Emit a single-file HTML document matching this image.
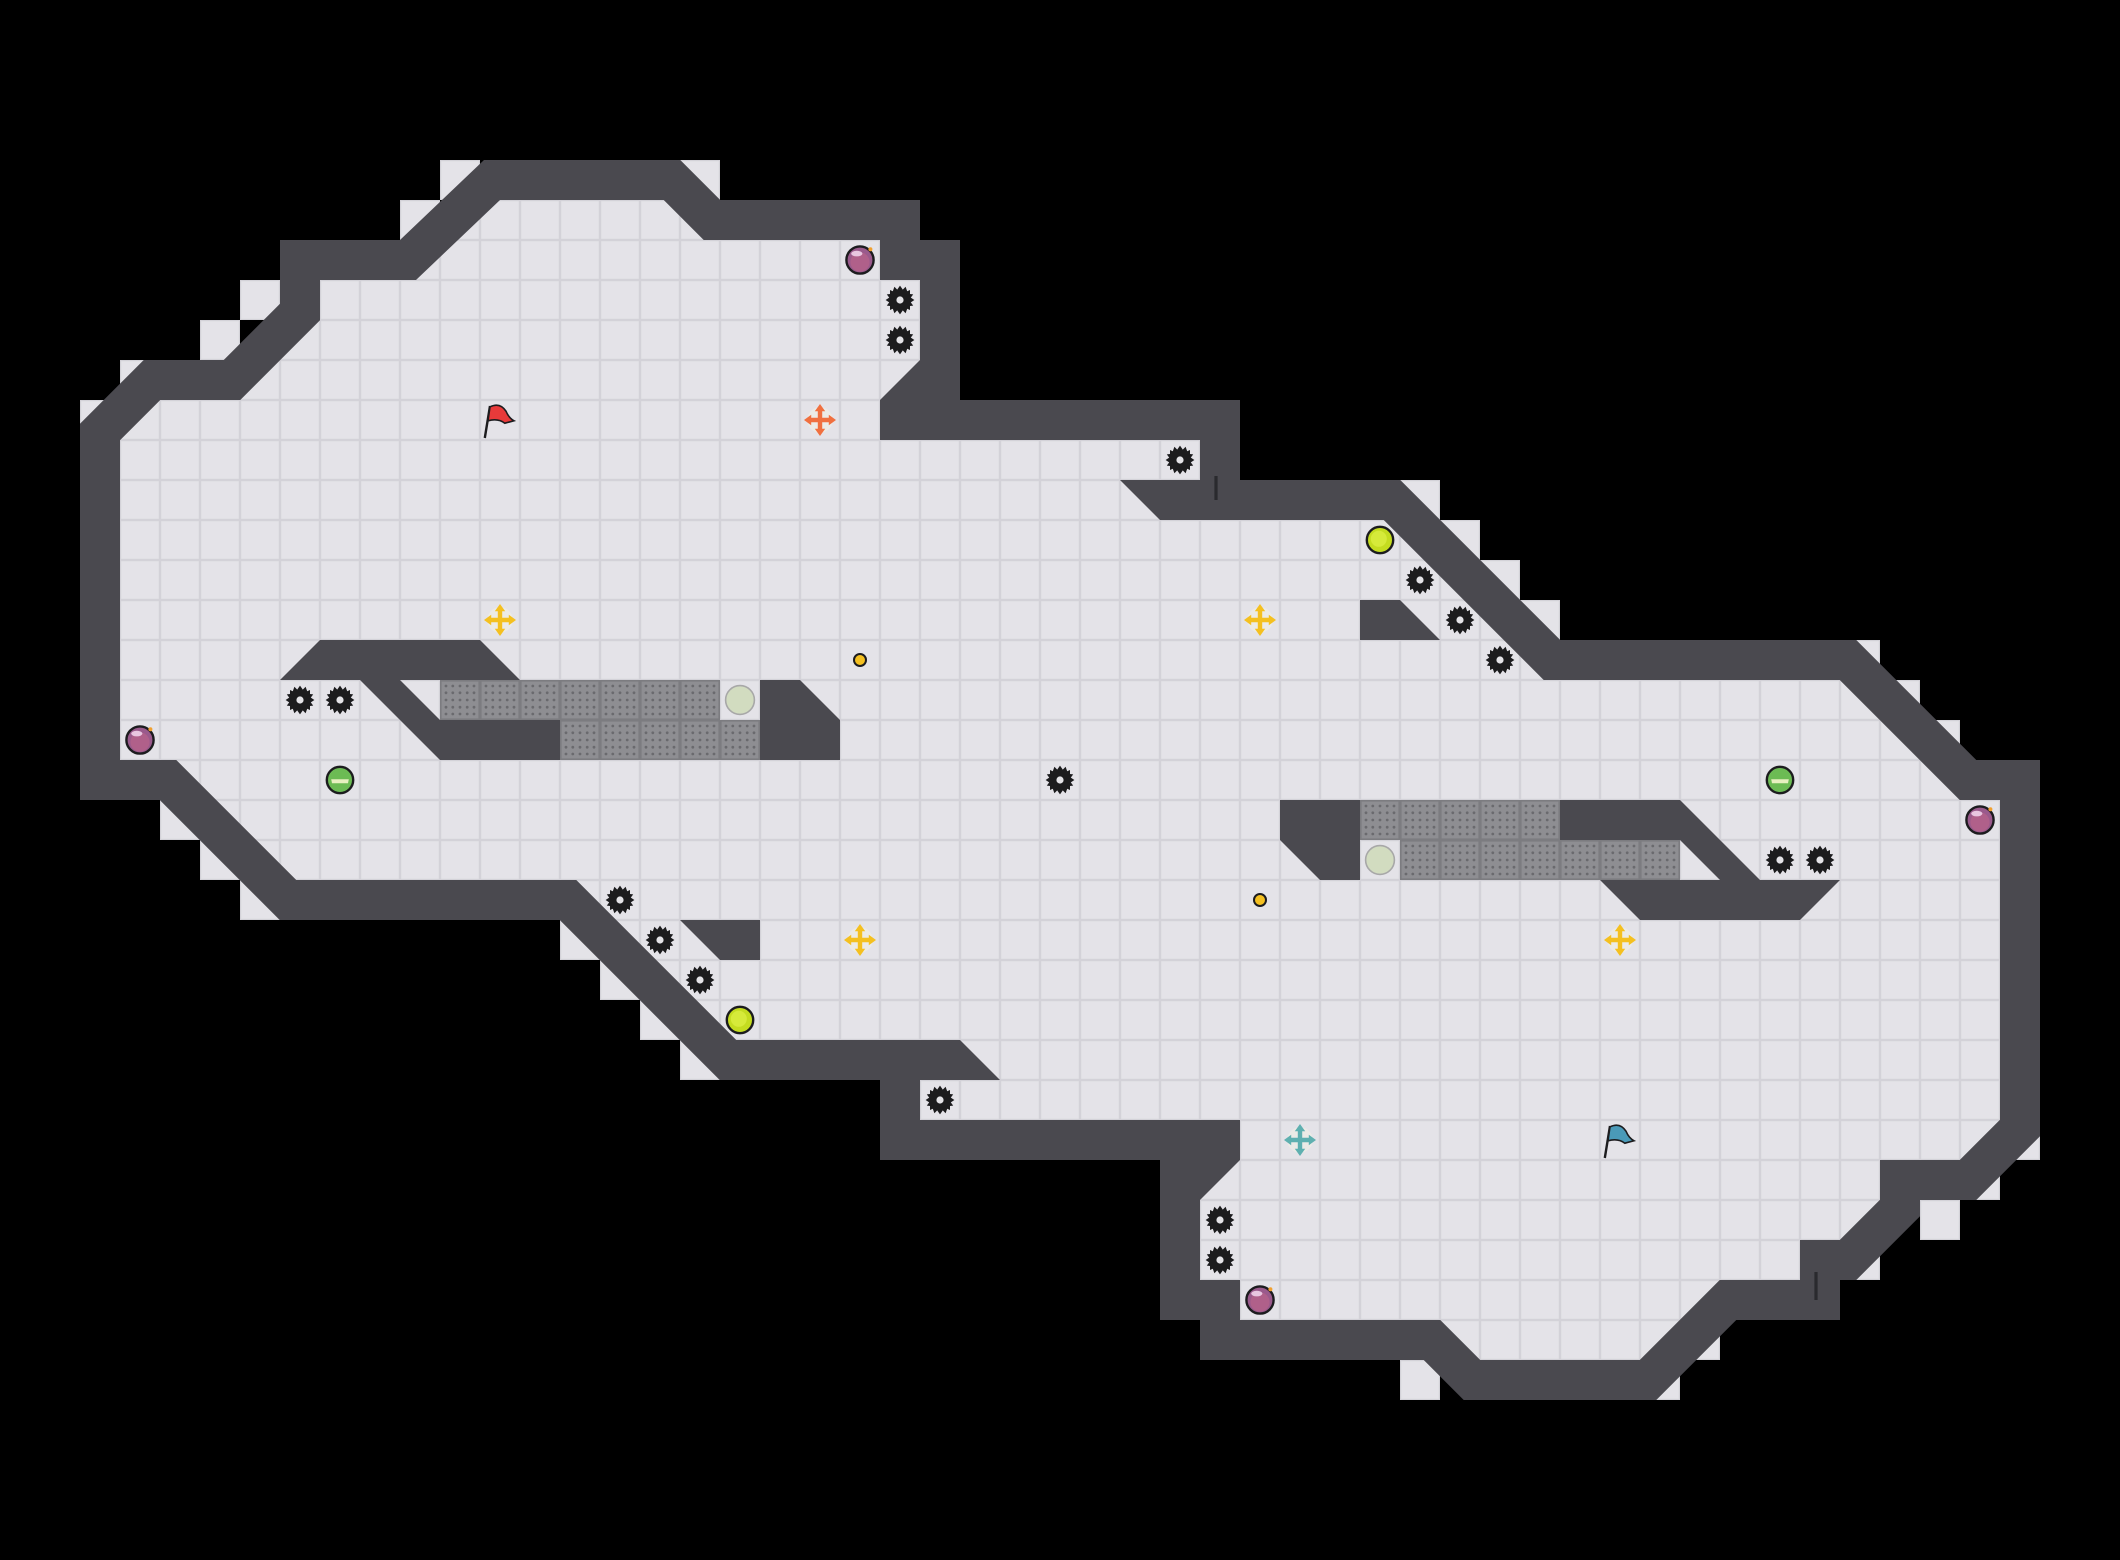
<!DOCTYPE html>
<html><head><meta charset="utf-8"><style>
html,body{margin:0;padding:0;background:#000;}
svg{display:block;}
</style></head><body>
<svg width="2120" height="1560" viewBox="0 0 53 39" xmlns="http://www.w3.org/2000/svg">
<defs>
<pattern id="tile" width="1" height="1" patternUnits="userSpaceOnUse">
<rect width="1" height="1" fill="#d3d2d8"/>
<rect x="0.03" y="0.03" width="0.94" height="0.94" fill="#e4e3e8"/>
</pattern>
<pattern id="grate" width="1" height="1" patternUnits="userSpaceOnUse">
<rect width="1" height="1" fill="#7c7c80"/>
<rect x="0.04" y="0.04" width="0.92" height="0.92" fill="#8e8e92"/>
<g fill="#6a6a6e">
<circle cx="0.15" cy="0.15" r="0.035"/><circle cx="0.32" cy="0.15" r="0.035"/><circle cx="0.5" cy="0.15" r="0.035"/><circle cx="0.68" cy="0.15" r="0.035"/><circle cx="0.85" cy="0.15" r="0.035"/>
<circle cx="0.15" cy="0.32" r="0.035"/><circle cx="0.32" cy="0.32" r="0.035"/><circle cx="0.5" cy="0.32" r="0.035"/><circle cx="0.68" cy="0.32" r="0.035"/><circle cx="0.85" cy="0.32" r="0.035"/>
<circle cx="0.15" cy="0.5" r="0.035"/><circle cx="0.32" cy="0.5" r="0.035"/><circle cx="0.5" cy="0.5" r="0.035"/><circle cx="0.68" cy="0.5" r="0.035"/><circle cx="0.85" cy="0.5" r="0.035"/>
<circle cx="0.15" cy="0.68" r="0.035"/><circle cx="0.32" cy="0.68" r="0.035"/><circle cx="0.5" cy="0.68" r="0.035"/><circle cx="0.68" cy="0.68" r="0.035"/><circle cx="0.85" cy="0.68" r="0.035"/>
<circle cx="0.15" cy="0.85" r="0.035"/><circle cx="0.32" cy="0.85" r="0.035"/><circle cx="0.5" cy="0.85" r="0.035"/><circle cx="0.68" cy="0.85" r="0.035"/><circle cx="0.85" cy="0.85" r="0.035"/>
</g>
</pattern>
<g id="saw">
<polygon fill="#1c1c1e" points="0,-0.36 0.07,-0.26 0.14,-0.33 0.18,-0.22 0.25,-0.25 0.25,-0.15 0.33,-0.14 0.27,-0.06 0.36,0 0.27,0.06 0.33,0.14 0.25,0.15 0.25,0.25 0.18,0.22 0.14,0.33 0.07,0.26 0,0.36 -0.07,0.26 -0.14,0.33 -0.18,0.22 -0.25,0.25 -0.25,0.15 -0.33,0.14 -0.27,0.06 -0.36,0 -0.27,-0.06 -0.33,-0.14 -0.25,-0.15 -0.25,-0.25 -0.18,-0.22 -0.14,-0.33 -0.07,-0.26"/>
<circle r="0.09" fill="#e4e3e8"/>
</g>
<g id="orb">
<circle r="0.34" fill="#9a5a8c" stroke="#1c1c1e" stroke-width="0.06"/>
<circle r="0.24" cy="0.05" fill="#b0608a"/>
<ellipse cx="-0.08" cy="-0.16" rx="0.14" ry="0.07" fill="#e8c6e0"/>
<circle cx="0.26" cy="-0.27" r="0.05" fill="#f0a030"/>
</g>
<g id="lime"><circle r="0.33" fill="#c4dc20" stroke="#1c1c1e" stroke-width="0.06"/><circle r="0.2" cx="-0.03" cy="-0.03" fill="#d6ea3a"/></g>
<g id="grn"><circle r="0.33" fill="#6cbb54" stroke="#1c1c1e" stroke-width="0.06"/><path d="M-0.22,-0.02 L0.22,-0.02 L0.2,0.08 L-0.2,0.08Z" fill="#e8f0c0"/></g>
<g id="ycross"><circle r="0.32" fill="#ecebe6"/><path d="M0,-0.3 L0,0.3 M-0.3,0 L0.3,0" stroke="#f4c020" stroke-width="0.11"/><path d="M0,-0.4 L-0.13,-0.22 L0.13,-0.22Z M0,0.4 L-0.13,0.22 L0.13,0.22Z M-0.4,0 L-0.22,-0.13 L-0.22,0.13Z M0.4,0 L0.22,-0.13 L0.22,0.13Z" fill="#f4c020"/></g>
<g id="ocross"><circle r="0.32" fill="#ecebe6"/><path d="M0,-0.3 L0,0.3 M-0.3,0 L0.3,0" stroke="#f07040" stroke-width="0.11"/><path d="M0,-0.4 L-0.13,-0.22 L0.13,-0.22Z M0,0.4 L-0.13,0.22 L0.13,0.22Z M-0.4,0 L-0.22,-0.13 L-0.22,0.13Z M0.4,0 L0.22,-0.13 L0.22,0.13Z" fill="#f07040"/></g>
<g id="tcross"><circle r="0.32" fill="#ecebe6"/><path d="M0,-0.3 L0,0.3 M-0.3,0 L0.3,0" stroke="#5fb0b0" stroke-width="0.11"/><path d="M0,-0.4 L-0.13,-0.22 L0.13,-0.22Z M0,0.4 L-0.13,0.22 L0.13,0.22Z M-0.4,0 L-0.22,-0.13 L-0.22,0.13Z M0.4,0 L0.22,-0.13 L0.22,0.13Z" fill="#5fb0b0"/></g>
</defs>
<rect width="53" height="39" fill="#000"/>
<g fill="url(#tile)">
<rect x="11" y="4" width="1" height="1"/><rect x="10" y="5" width="1" height="1"/><rect x="17" y="4" width="1" height="1"/>
<rect x="2" y="10" width="1" height="1"/><rect x="3" y="9" width="1" height="1"/><rect x="5" y="8" width="1" height="1"/><rect x="6" y="7" width="1" height="1"/>
<rect x="35" y="12" width="1" height="1"/><rect x="36" y="13" width="1" height="1"/><rect x="37" y="14" width="1" height="1"/><rect x="38" y="15" width="1" height="1"/>
<rect x="46" y="16" width="1" height="1"/><rect x="47" y="17" width="1" height="1"/><rect x="48" y="18" width="1" height="1"/>
<rect x="50" y="28" width="1" height="1"/><rect x="49" y="29" width="1" height="1"/><rect x="48" y="30" width="1" height="1"/><rect x="46" y="31" width="1" height="1"/>
<rect x="42" y="33" width="1" height="1"/><rect x="41" y="34" width="1" height="1"/><rect x="35" y="34" width="1" height="1"/>
<rect x="14" y="23" width="1" height="1"/><rect x="15" y="24" width="1" height="1"/><rect x="16" y="25" width="1" height="1"/><rect x="17" y="26" width="1" height="1"/>
<rect x="4" y="20" width="1" height="1"/><rect x="5" y="21" width="1" height="1"/><rect x="6" y="22" width="1" height="1"/>
</g>
<polygon fill="url(#tile)" stroke="#4a494f" stroke-width="1" stroke-linejoin="miter" stroke-miterlimit="4"
points="12.3,4.5 16.8,4.5 17.8,5.5 22.5,5.5 22.5,6.5 23.5,6.5 23.5,10.5 30.5,10.5 30.5,12.5 34.8,12.5 38.8,16.5 46.2,16.5 49.2,19.5 50.5,19.5 50.5,28.2 49.2,29.5 47.5,29.5 47.5,30.2 46.2,31.5 45.5,31.5 45.5,32.5 43.2,32.5 41.2,34.5 36.8,34.5 35.8,33.5 30.5,33.5 30.5,32.5 29.5,32.5 29.5,28.5 22.5,28.5 22.5,26.5 18.2,26.5 14.2,22.5 7.2,22.5 4.2,19.5 2.5,19.5 2.5,10.8 3.8,9.5 5.8,9.5 7.5,7.8 7.5,6.5 10.2,6.5"/>
<g fill="#4a494f">
<rect x="22" y="10" width="1.2" height="1"/>
<rect x="22.8" y="26" width="1.2" height="1"/>
<rect x="29.8" y="28" width="1.2" height="1"/>
<polygon points="22,10 23,9 23,10"/>
<polygon points="28,12 31,12 31,13 29,13"/>
<polygon points="24,26 25,27 24,27"/>
<polygon points="30,29 31,29 30,30"/>
<polygon points="34,15 35,15 36,16 34,16"/>
<polygon points="17,23 19,23 19,24 18,24"/>
<polygon points="7,17 8,16 12,16 13,17"/>
<polygon points="9,17 10,17 11,18 14,18 14,19 11,19"/>
<polygon points="19,17 20,17 21,18 21,19 19,19"/>
<polygon points="32,20 34,20 34,22 33,22 32,21"/>
<polygon points="39,20 42,20 44,22 46,22 45,23 41,23 40,22 43,22 42,21 39,21"/>
</g>
<g stroke="#2a2a2e" stroke-width="0.08">
<line x1="30.4" y1="11.9" x2="30.4" y2="12.5"/>
<line x1="45.4" y1="31.8" x2="45.4" y2="32.5"/>
</g>
<rect x="11" y="17" width="7" height="1" fill="url(#grate)"/>
<rect x="14" y="18" width="5" height="1" fill="url(#grate)"/>
<rect x="34" y="20" width="5" height="1" fill="url(#grate)"/>
<rect x="35" y="21" width="7" height="1" fill="url(#grate)"/>
<circle cx="18.5" cy="17.5" r="0.36" fill="#d2dcc0" stroke="#a8a8a8" stroke-width="0.04"/>
<circle cx="34.5" cy="21.5" r="0.36" fill="#d2dcc0" stroke="#a8a8a8" stroke-width="0.04"/>
<use href="#saw" x="22.5" y="7.5"/><use href="#saw" x="22.5" y="8.5"/><use href="#saw" x="29.5" y="11.5"/>
<use href="#saw" x="35.5" y="14.5"/><use href="#saw" x="36.5" y="15.5"/><use href="#saw" x="37.5" y="16.5"/>
<use href="#saw" x="7.5" y="17.5"/><use href="#saw" x="8.5" y="17.5"/><use href="#saw" x="26.5" y="19.5"/>
<use href="#saw" x="44.5" y="21.5"/><use href="#saw" x="45.5" y="21.5"/>
<use href="#saw" x="15.5" y="22.5"/><use href="#saw" x="16.5" y="23.5"/><use href="#saw" x="17.5" y="24.5"/>
<use href="#saw" x="23.5" y="27.5"/><use href="#saw" x="30.5" y="30.5"/><use href="#saw" x="30.5" y="31.5"/>
<use href="#orb" x="21.5" y="6.5"/><use href="#orb" x="3.5" y="18.5"/><use href="#orb" x="49.5" y="20.5"/><use href="#orb" x="31.5" y="32.5"/>
<use href="#lime" x="34.5" y="13.5"/><use href="#lime" x="18.5" y="25.5"/>
<use href="#grn" x="8.5" y="19.5"/><use href="#grn" x="44.5" y="19.5"/>
<use href="#ycross" x="12.5" y="15.5"/><use href="#ycross" x="31.5" y="15.5"/><use href="#ycross" x="21.5" y="23.5"/><use href="#ycross" x="40.5" y="23.5"/>
<use href="#ocross" x="20.5" y="10.5"/><use href="#tcross" x="32.5" y="28.5"/>
<circle cx="21.5" cy="16.5" r="0.15" fill="#f4c020" stroke="#1c1c1e" stroke-width="0.05"/>
<circle cx="31.5" cy="22.5" r="0.15" fill="#f4c020" stroke="#1c1c1e" stroke-width="0.05"/>
<g transform="translate(12.5,10.5)">
<line x1="-0.38" y1="0.45" x2="-0.25" y2="-0.35" stroke="#1c1c1e" stroke-width="0.06"/>
<path d="M-0.25,-0.33 Q0,-0.45 0.15,-0.22 Q0.22,-0.05 0.35,0.02 L0.12,0.08 Q-0.05,-0.05 -0.3,0.02Z" fill="#e83a3a" stroke="#1c1c1e" stroke-width="0.04"/>
</g>
<g transform="translate(40.5,28.5)">
<line x1="-0.38" y1="0.45" x2="-0.25" y2="-0.35" stroke="#1c1c1e" stroke-width="0.06"/>
<path d="M-0.25,-0.33 Q0,-0.45 0.15,-0.22 Q0.22,-0.05 0.35,0.02 L0.12,0.08 Q-0.05,-0.05 -0.3,0.02Z" fill="#4a9ab8" stroke="#1c1c1e" stroke-width="0.04"/>
</g>
</svg>
</body></html>
